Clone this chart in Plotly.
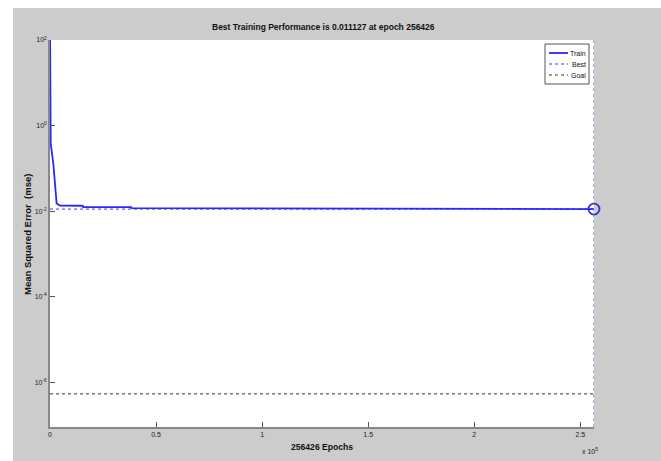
import plotly.graph_objects as go

# ---- data ----
train_epochs = [0, 330, 1540, 2340, 3130, 4670, 15400, 15600, 38300, 38500, 99500, 99700, 256426]
train_mse = [250, 0.384, 0.131, 0.037, 0.015, 0.0134, 0.0133, 0.0124, 0.0123, 0.0117, 0.0116, 0.01114, 0.011127]
best_epoch = 256426
best_mse = 0.011127
goal_mse = 5.3e-7
x_tickvals = [0, 50000, 100000, 150000, 200000, 250000]
x_ticktext = ["0", "0.5", "1", "1.5", "2", "2.5"]
y_tickvals = [1e-6, 1e-4, 1e-2, 1e0, 1e2]
y_ticktext = ["10<sup>-6</sup>", "10<sup>-4</sup>", "10<sup>-2</sup>", "10<sup>0</sup>", "10<sup>2</sup>"]
legend_names = ["Train", "Best", "Goal"]

FONT = "Liberation Sans, Arial, sans-serif"
BLUE = "rgb(40,40,255)"
W, H = 661, 461
L, R, T, B = 50, 67, 40, 34
PW, PH = W - L - R, H - T - B

def px(x):
    return (x - L) / PW

def py(y):
    return (H - B - y) / PH

fig = go.Figure()

# goal line
fig.add_trace(go.Scatter(x=[0, best_epoch], y=[goal_mse, goal_mse], mode="lines",
                         line=dict(color="#333333", width=1, dash="dot"), showlegend=False,
                         hoverinfo="skip"))
# best horizontal line
fig.add_trace(go.Scatter(x=[0, best_epoch], y=[best_mse, best_mse], mode="lines",
                         line=dict(color="rgb(60,60,220)", width=1, dash="dot"), showlegend=False,
                         hoverinfo="skip"))
# train curve
fig.add_trace(go.Scatter(x=train_epochs, y=train_mse, mode="lines",
                         line=dict(color=BLUE, width=1.8), showlegend=False))
# best marker
fig.add_trace(go.Scatter(x=[best_epoch], y=[best_mse], mode="markers",
                         marker=dict(symbol="circle-open", size=11, color="rgb(50,50,200)",
                                     line=dict(width=1.8, color="rgb(50,50,200)")),
                         showlegend=False, cliponaxis=False))

shapes = []
# white border strips (top / left)
shapes.append(dict(type="rect", xref="paper", yref="paper", x0=px(-20), x1=px(W + 20),
                   y0=py(8), y1=py(-20), fillcolor="white", line=dict(width=0), layer="below"))
shapes.append(dict(type="rect", xref="paper", yref="paper", x0=px(-20), x1=px(13),
                   y0=py(H + 20), y1=py(-20), fillcolor="white", line=dict(width=0), layer="below"))
# best vertical line
shapes.append(dict(type="line", xref="x", yref="paper", x0=best_epoch, x1=best_epoch,
                   y0=0, y1=1, line=dict(color="rgb(120,120,200)", width=1.2, dash="dot")))
# legend box
lx0, lx1, ly0, ly1 = 545, 589, 44, 84
shapes.append(dict(type="rect", xref="paper", yref="paper", x0=px(lx0), x1=px(lx1),
                   y0=py(ly1), y1=py(ly0), fillcolor="white", line=dict(color="#555555", width=1)))
leg_styles = [dict(color=BLUE, width=1.8), dict(color="rgb(60,60,220)", width=1, dash="dot"),
              dict(color="#333333", width=1, dash="dot")]
leg_rows = [53, 64, 75]
annotations = []
for name, st, ry in zip(legend_names, leg_styles, leg_rows):
    shapes.append(dict(type="line", xref="paper", yref="paper", x0=px(549), x1=px(568),
                       y0=py(ry), y1=py(ry), line=st))
    annotations.append(dict(text=name, xref="paper", yref="paper", x=px(588), y=py(ry),
                            xanchor="right", yanchor="middle", showarrow=False,
                            font=dict(family=FONT, size=7, color="#111111")))

annotations.append(dict(text="<b>256426 Epochs</b>", xref="paper", yref="paper",
                        x=px(322), y=py(447), xanchor="center", yanchor="middle", showarrow=False,
                        font=dict(family=FONT, size=8.6, color="#111111")))
annotations.append(dict(text="x 10<sup>5</sup>", xref="paper", yref="paper",
                        x=px(590), y=py(451), xanchor="center", yanchor="middle", showarrow=False,
                        font=dict(family=FONT, size=7, color="#222222")))
annotations.append(dict(text="<b>Mean Squared Error  (mse)</b>", xref="paper", yref="paper",
                        x=px(27), y=py(235), xanchor="center", yanchor="middle", showarrow=False,
                        textangle=-90, font=dict(family=FONT, size=9.5, color="#111111")))
annotations.append(dict(text="<b>Best Training Performance is 0.011127 at epoch 256426</b>",
                        xref="paper", yref="paper", x=px(323), y=py(27), xanchor="center",
                        yanchor="middle", showarrow=False,
                        font=dict(family=FONT, size=8.5, color="#111111")))

fig.update_layout(
    width=W, height=H,
    margin=dict(l=L, r=R, t=T, b=B),
    paper_bgcolor="#cccccc", plot_bgcolor="white",
    showlegend=False,
    shapes=shapes, annotations=annotations,
    xaxis=dict(range=[0, best_epoch], tickvals=x_tickvals, ticktext=x_ticktext,
               ticks="inside", ticklen=5, tickcolor="#555555", tickwidth=1,
               showline=True, linecolor="#888888", linewidth=1.5, showgrid=False, zeroline=False,
               tickfont=dict(family=FONT, size=7, color="#222222")),
    yaxis=dict(type="log", range=[-7.05, 2], tickvals=y_tickvals, ticktext=y_ticktext,
               ticks="inside", ticklen=5, tickcolor="#555555", tickwidth=1,
               showline=True, linecolor="#888888", linewidth=1.5, showgrid=False, zeroline=False,
               tickfont=dict(family=FONT, size=7, color="#222222")),
)

fig.write_html("out.html")
